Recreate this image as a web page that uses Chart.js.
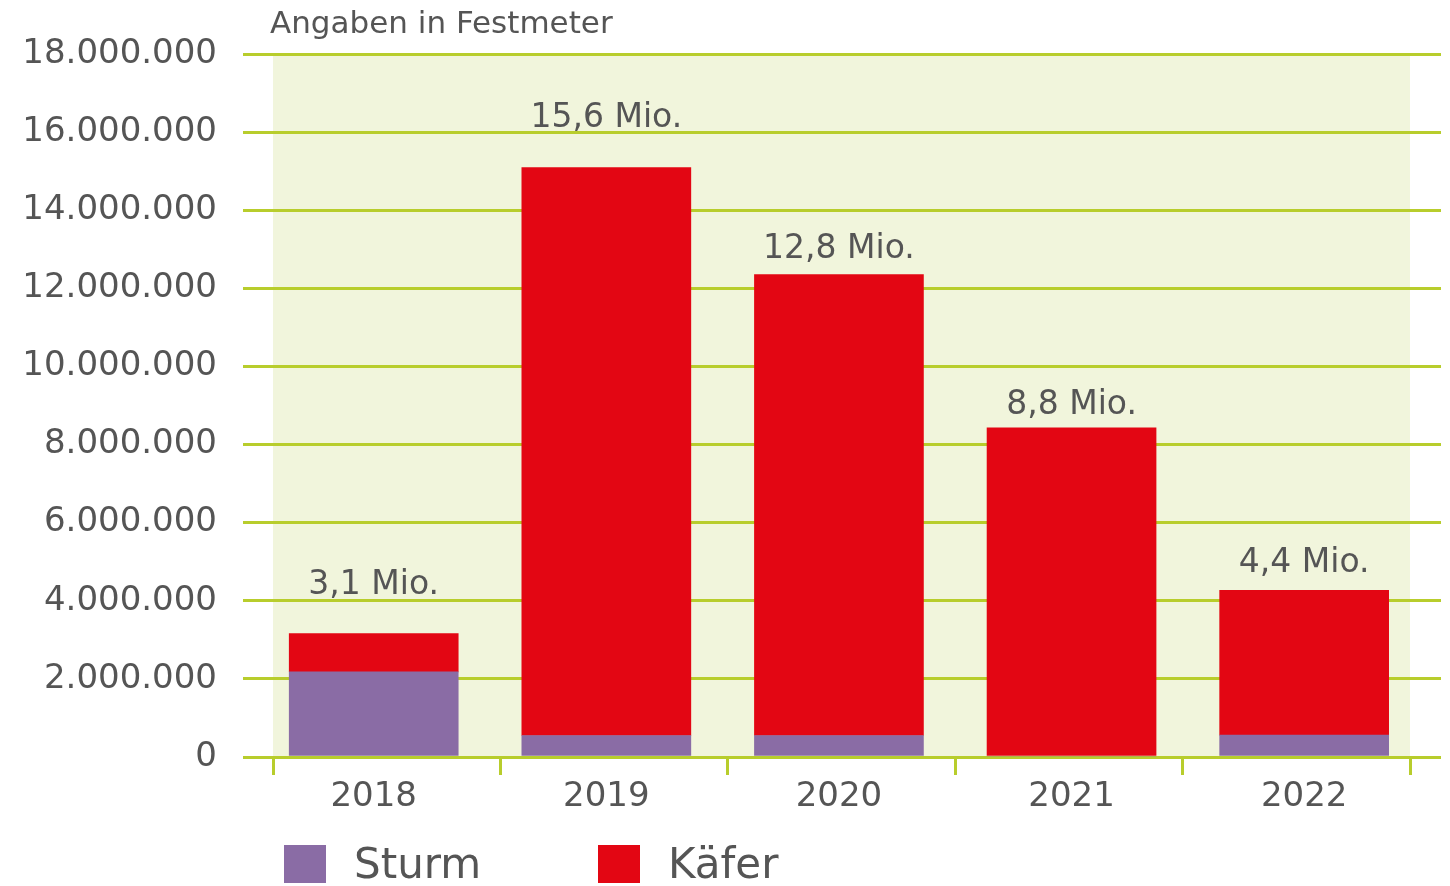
<!DOCTYPE html>
<html lang="de">
<head>
<meta charset="utf-8">
<title>Schadholz 2018-2022</title>
<script src="https://cdn.jsdelivr.net/npm/chart.js@4.4.1/dist/chart.umd.min.js"></script>
<style>
  html, body { margin: 0; padding: 0; background: #fff; }
  canvas { display: block; }
</style>
</head>
<body>
<canvas id="holz" width="1450" height="886"></canvas>
<script>
// Schadholz in Festmeter, Sturm + Käfer gestapelt
const years = ['2018', '2019', '2020', '2021', '2022'];
const sturm = [2180000, 550000, 550000, 0, 560000];
const kaefer = [980000, 14540000, 11800000, 8430000, 3710000];
const totalLabels = ['3,1 Mio.', '15,6 Mio.', '12,8 Mio.', '8,8 Mio.', '4,4 Mio.'];
const yTicks = [0, 2000000, 4000000, 6000000, 8000000, 10000000, 12000000, 14000000, 16000000, 18000000];

const green = '#b8cd2c';
const textColor = '#555';
const fontFamily = '"DejaVu Sans", sans-serif';

const dots = v => String(v).replace(/\B(?=(\d{3})+(?!\d))/g, '.');

// light green plot area
const background = {
    id: 'background',
    beforeDraw(chart) {
        const { ctx, chartArea: a } = chart;
        ctx.save();
        ctx.fillStyle = '#f1f5dc';
        ctx.fillRect(a.left, a.top, a.right - a.left, a.bottom - a.top);
        ctx.restore();
    }
};

// totals above bars, unit note, legend
const extras = {
    id: 'extras',
    afterDatasetsDraw(chart, args, opts) {
        const ctx = chart.ctx;
        const a = chart.chartArea;
        const topMeta = chart.getDatasetMeta(chart.data.datasets.length - 1);
        ctx.save();
        ctx.fillStyle = textColor;
        ctx.textBaseline = 'alphabetic';

        ctx.font = '33px ' + fontFamily;
        ctx.textAlign = 'center';
        topMeta.data.forEach((bar, i) => {
            ctx.fillText(totalLabels[i], bar.x, bar.y - opts.gaps[i]);
        });

        ctx.font = '31px ' + fontFamily;
        ctx.textAlign = 'left';
        ctx.fillText('Angaben in Festmeter', a.left - 3, 33);

        ctx.font = '42px ' + fontFamily;
        chart.data.datasets.forEach((ds, i) => {
            const x = opts.legendX[i];
            ctx.fillStyle = ds.backgroundColor;
            ctx.fillRect(x, 845, 42, 38);
            ctx.fillStyle = textColor;
            ctx.fillText(ds.label, x + 70, 878);
        });
        ctx.restore();
    }
};

let chart = new Chart(document.getElementById('holz'), {
    type: 'bar',
    data: {
        labels: years,
        datasets: [{
            label: 'Sturm',
            data: sturm.map((v, i) => ({ x: i, y: v })),
            backgroundColor: '#8a6ca5',
            xAxisID: 'x',
            yAxisID: 'y',
        }, {
            label: 'Käfer',
            data: kaefer.map((v, i) => ({ x: i, y: v })),
            backgroundColor: '#e30613',
            xAxisID: 'x',
            yAxisID: 'y',
        }],
    },
    options: {
        responsive: false,
        animation: false,
        layout: {
            padding: { top: 54, bottom: 61, left: 0, right: 0 },
        },
        datasets: {
            bar: { barThickness: 169, borderWidth: 0 },
        },
        plugins: {
            legend: { display: false },
            tooltip: { enabled: false },
            extras: {
                gaps: [40, 41, 17, 14, 18],
                legendX: [284, 598],
            },
        },
        scales: {
            x: {
                type: 'linear',
                stacked: true,
                offset: false,
                min: -0.433,
                max: 4.455,
                weight: 1,
                grid: { display: false },
                border: { display: false },
                afterBuildTicks: s => { s.ticks = years.map((_, i) => ({ value: i })); },
                afterFit: s => { s.height = 50; },
                ticks: {
                    callback: v => years[v],
                    font: { family: fontFamily, size: 34 },
                    color: textColor,
                    padding: -6,
                    maxRotation: 0,
                    autoSkip: false,
                },
            },
            x2: {
                type: 'category',
                position: 'bottom',
                offset: true,
                weight: 0,
                grid: { offset: true, drawOnChartArea: false, tickLength: 18, lineWidth: 3, color: green },
                border: { display: false },
                ticks: { display: false },
                afterFit: s => { s.height = 18; },
            },
            y: {
                stacked: true,
                min: 0,
                max: 18000000,
                afterBuildTicks: s => { s.ticks = yTicks.map(v => ({ value: v })); },
                afterFit: s => { s.width = 273; },
                grid: { color: green, lineWidth: 3, tickLength: 30 },
                border: { display: false },
                ticks: {
                    callback: v => dots(v),
                    font: { family: fontFamily, size: 34 },
                    color: textColor,
                    padding: 26,
                },
            },
            y2: {
                position: 'right',
                min: 0,
                max: 18000000,
                afterBuildTicks: s => { s.ticks = yTicks.map(v => ({ value: v })); },
                afterFit: s => { s.width = 40; },
                grid: { drawOnChartArea: false, color: green, lineWidth: 3, tickLength: 31 },
                border: { display: false },
                ticks: { display: false },
            },
        },
    },
    plugins: [background, extras],
});
</script>
</body>
</html>
